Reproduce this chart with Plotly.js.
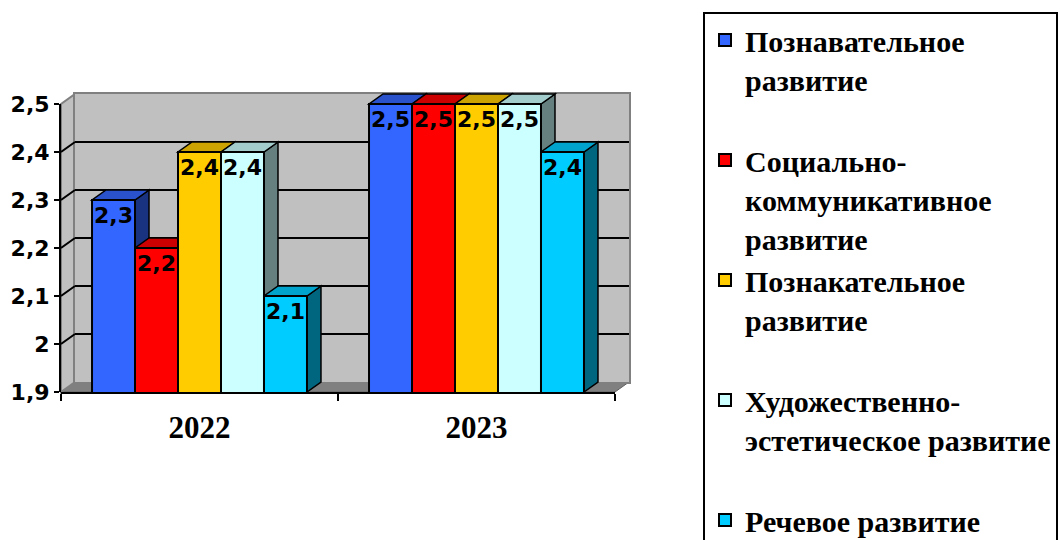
<!DOCTYPE html>
<html>
<head>
<meta charset="utf-8">
<script src="https://cdn.plot.ly/plotly-3.0.1.min.js"></script>
<style>html,body{margin:0;padding:0;background:#fff;}#chart{width:1060px;height:540px;}</style>
</head>
<body>
<div id="chart"></div>
<script>
// ---- data ----
var categories = ['2022', '2023'];
var seriesNames = [
  'Познавательное<br>развитие<br>\u00a0',
  'Социально-<br>коммуникативное<br>развитие',
  'Познакательное<br>развитие<br>\u00a0',
  'Художественно-<br>эстетическое развитие<br>\u00a0',
  'Речевое развитие'
];
var poznavatelnoe = [2.3, 2.5];
var socialnoKomm = [2.2, 2.5];
var poznakatelnoe = [2.4, 2.5];
var hudozhEstet = [2.4, 2.5];
var rechevoe = [2.1, 2.4];
var seriesValues = [poznavatelnoe, socialnoKomm, poznakatelnoe, hudozhEstet, rechevoe];
var seriesColors = ['#3366FF', '#FF0000', '#FFCC00', '#CCFFFF', '#00CCFF'];
var yTicks = [1.9, 2.0, 2.1, 2.2, 2.3, 2.4, 2.5];

// ---- geometry (layout) ----
var W = 1060, H = 540;
var FL = 61, FR = 615, FT = 104, FB = 392;   // front plane in px
var DXP = 14, DYP = 10;                       // 3D depth in px
var EXT = DYP + 3;                            // room above the front plane for bar tops
var yMin = 1.9, yMax = 2.5;
var bargap = 0.224;
var nS = seriesValues.length;
var bw = (1 - bargap) / nS;
var pxPerCat = (FR - FL) / categories.length;
var pxPerUnit = (FB - FT) / (yMax - yMin);
var dxu = DXP / pxPerCat;
var dyu = DYP / pxPerUnit;

function shade(hex, f) {
  var r = parseInt(hex.substr(1, 2), 16), g = parseInt(hex.substr(3, 2), 16), b = parseInt(hex.substr(5, 2), 16);
  return 'rgb(' + Math.round(r * f) + ',' + Math.round(g * f) + ',' + Math.round(b * f) + ')';
}
function px(xp) { return xp / W; }
function py(yp) { return 1 - yp / H; }

var traces = seriesValues.map(function (vals, i) {
  return {
    type: 'bar', name: seriesNames[i], x: categories, y: vals,
    xaxis: 'x2', yaxis: 'y2',
    marker: {color: seriesColors[i], line: {color: '#000', width: 2}},
    texttemplate: '%{y:.1f}', textposition: 'inside', insidetextanchor: 'end',
    textangle: 0, constraintext: 'none', cliponaxis: false,
    textfont: {family: 'DejaVu Sans', size: 22, color: '#000', weight: 'bold'},
    insidetextfont: {family: 'DejaVu Sans', size: 22, color: '#000', weight: 'bold'},
    legendgroup: 'g' + i, hoverinfo: 'skip'
  };
});

var shapes = [];
var lw = 1.5;
// back wall fill (under its grid lines)
shapes.push({type: 'rect', xref: 'x', yref: 'y', layer: 'below',
  x0: 0, x1: 1, y0: yMin, y1: yMax, fillcolor: '#c0c0c0', line: {width: 0}});
// floor
shapes.push({type: 'path', xref: 'paper', yref: 'paper', layer: 'below',
  path: 'M' + px(FL) + ',' + py(FB) + ' L' + px(FR) + ',' + py(FB) + ' L' + px(FR + DXP) + ',' + py(FB - DYP) + ' L' + px(FL + DXP) + ',' + py(FB - DYP) + ' Z',
  fillcolor: '#808080', line: {color: '#606060', width: 1}});
// left wall
shapes.push({type: 'path', xref: 'paper', yref: 'paper', layer: 'below',
  path: 'M' + px(FL) + ',' + py(FB) + ' L' + px(FL + DXP) + ',' + py(FB - DYP) + ' L' + px(FL + DXP) + ',' + py(FT - DYP) + ' L' + px(FL) + ',' + py(FT) + ' Z',
  fillcolor: '#c0c0c0', line: {color: '#808080', width: 2}});
// left wall grid lines
yTicks.forEach(function (t) {
  if (t > yMin + 1e-9 && t < yMax - 1e-9) {
    shapes.push({type: 'line', xref: 'x2', yref: 'y3', layer: 'below',
      x0: -0.5, y0: t, x1: -0.5 + dxu, y1: t + dyu, line: {color: '#000', width: 2}});
  }
});
// 3D faces of bars
categories.forEach(function (c, j) {
  for (var i = 0; i < nS; i++) {
    var v = seriesValues[i][j];
    var L = j - (1 - bargap) / 2 + i * bw, R = L + bw;
    shapes.push({type: 'path', xref: 'x2', yref: 'y2', layer: 'below',
      path: 'M' + R + ',' + yMin + ' L' + (R + dxu) + ',' + (yMin + dyu) + ' L' + (R + dxu) + ',' + (v + dyu) + ' L' + R + ',' + v + ' Z',
      fillcolor: shade(seriesColors[i], 0.5), line: {color: '#000', width: lw}});
    shapes.push({type: 'path', xref: 'x2', yref: 'y2', layer: 'below',
      path: 'M' + L + ',' + v + ' L' + R + ',' + v + ' L' + (R + dxu) + ',' + (v + dyu) + ' L' + (L + dxu) + ',' + (v + dyu) + ' Z',
      fillcolor: shade(seriesColors[i], 0.8), line: {color: '#000', width: lw}});
  }
});

var layout = {
  width: W, height: H,
  margin: {l: 0, r: 0, t: 0, b: 0, autoexpand: false},
  paper_bgcolor: '#fff', plot_bgcolor: 'rgba(0,0,0,0)',
  separators: ',.',
  barmode: 'group', bargap: bargap, bargroupgap: 0,
  showlegend: true,
  // back wall
  xaxis: {domain: [px(FL + DXP), px(FR + DXP)], anchor: 'y', range: [0, 1],
    showgrid: false, zeroline: false, showticklabels: false, ticks: '',
    showline: true, mirror: true, linecolor: '#808080', linewidth: 2, fixedrange: true},
  yaxis: {domain: [py(FB - DYP), py(FT - DYP)], anchor: 'x', range: [yMin, yMax],
    tickvals: yTicks, showgrid: true, gridcolor: '#000', gridwidth: 2, zeroline: false,
    showticklabels: false, ticks: '', showline: true, mirror: true, linecolor: '#808080', linewidth: 2, fixedrange: true},
  // bars plane (extended upward so bar tops are not clipped)
  xaxis2: {domain: [px(FL), px(FR)], anchor: 'y2', type: 'category', range: [-0.5, categories.length - 0.5],
    showgrid: false, zeroline: false, showline: true, linecolor: '#000', linewidth: 2,
    ticks: 'outside', tickson: 'boundaries', ticklen: 7, tickwidth: 2, tickcolor: '#000',
    ticklabelstandoff: 7,
    tickfont: {family: 'Liberation Serif', size: 31, color: '#000', weight: 'bold'}, fixedrange: true},
  yaxis2: {domain: [py(FB), py(FT - EXT)], anchor: 'x2', range: [yMin, yMax + EXT / pxPerUnit],
    visible: false, showgrid: false, zeroline: false, fixedrange: true},
  // visible value axis on the front plane
  yaxis3: {domain: [py(FB), py(FT)], anchor: 'x2', range: [yMin, yMax],
    tickvals: yTicks, showgrid: false, zeroline: false, showline: true, linecolor: '#000', linewidth: 2,
    ticks: 'outside', ticklen: 5, tickwidth: 2, tickcolor: '#000',
    tickfont: {family: 'DejaVu Sans', size: 22, color: '#000', weight: 'bold'}, fixedrange: true},
  legend: {x: 703 / W, xanchor: 'left', y: py(12), yanchor: 'top',
    bgcolor: '#fff', bordercolor: '#000', borderwidth: 2,
    traceorder: 'grouped', tracegroupgap: 0, valign: 'top',
    font: {family: 'Liberation Serif', size: 30, color: '#000', weight: 'bold'}},
  shapes: shapes
};

Plotly.newPlot('chart', traces, layout, {displayModeBar: false, staticPlot: true});
</script>
</body>
</html>
